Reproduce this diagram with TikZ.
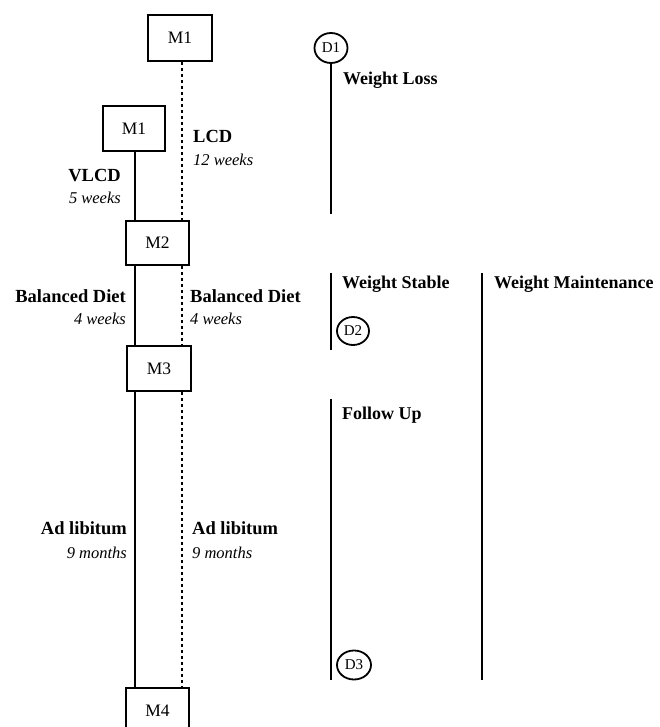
\documentclass[tikz,border=0pt]{standalone}
\usepackage{fontspec}
\setmainfont{Liberation Serif}
\usetikzlibrary{shapes.geometric}
\begin{document}
\begin{tikzpicture}[x=1pt,y=-1pt,
  mbox/.style={draw,line width=2.6pt,inner sep=0pt,font=\fontsize{17.5}{17.5}\selectfont},
  dcirc/.style={draw,ellipse,line width=1.8pt,minimum width=32pt,minimum height=28pt,inner sep=0pt,font=\fontsize{15}{15}\selectfont},
  solidline/.style={line width=2.6pt},
  dotline/.style={line width=2.8pt,dash pattern=on 3pt off 3pt},
  phaseline/.style={line width=2.2pt},
  blab/.style={inner sep=0pt,font=\bfseries\fontsize{18.5}{18.5}\selectfont},
  ilab/.style={inner sep=0pt,font=\itshape\fontsize{16.5}{16.5}\selectfont},
  hlab/.style={inner sep=0pt,anchor=base west,font=\bfseries\fontsize{18}{18}\selectfont}]
\useasboundingbox (0,0) rectangle (659,727);
% boxes
\node[mbox,minimum width=64pt,minimum height=46pt] (m1a) at (180,38) {M1};
\node[mbox,minimum width=62pt,minimum height=45pt] (m1b) at (134,128.5) {M1};
\node[mbox,minimum width=63pt,minimum height=44pt] (m2) at (157.5,243) {M2};
\node[mbox,minimum width=64pt,minimum height=45pt] (m3) at (159,368.5) {M3};
\node[mbox,minimum width=63pt,minimum height=45pt] (m4) at (157.5,710.5) {M4};
\coordinate (sx) at (135,0);
\coordinate (dx) at (182,0);
% solid track
\draw[solidline] (m1b.south -| sx) -- (m2.north -| sx);
\draw[solidline] (m2.south -| sx) -- (m3.north -| sx);
\draw[solidline] (m3.south -| sx) -- (m4.north -| sx);
% dotted track
\draw[dotline] (m1a.south -| dx) -- (m2.north -| dx);
\draw[dotline] (m2.south -| dx) -- (m3.north -| dx);
\draw[dotline] (m3.south -| dx) -- (m4.north -| dx);
% left labels
\node[blab,anchor=base east] (vlcd) at (121,182) {VLCD};
\node[ilab,anchor=base east] (vlcdw) at (121,204) {5 weeks};
\node[blab,anchor=base west] (lcd) at (193,143) {LCD};
\node[ilab,anchor=base west] (lcdw) at (193,166) {12 weeks};
\node[blab,anchor=base east] (bd1) at (126,302) {Balanced Diet};
\node[ilab,anchor=base east] (bd1w) at (126,324) {4 weeks};
\node[blab,anchor=base west] (bd2) at (190,302) {Balanced Diet};
\node[ilab,anchor=base west] (bd2w) at (190,324) {4 weeks};
\node[blab,anchor=base east] (al1) at (127,534) {Ad libitum};
\node[ilab,anchor=base east] (al1w) at (127,558) {9 months};
\node[blab,anchor=base west] (al2) at (192,534) {Ad libitum};
\node[ilab,anchor=base west] (al2w) at (192,558) {9 months};
% right side phases
\node[dcirc,minimum width=33pt,minimum height=30pt] (d1) at (331,48) {D1};
\coordinate (wlend) at (331,214);
\draw[phaseline] (d1.south) -- (wlend);
\node[hlab] (wl) at (343,85) {Weight Loss};
\coordinate (ws1) at (331,273);
\coordinate (ws2) at (331,350);
\draw[phaseline] (ws1) -- (ws2);
\node[hlab] (wst) at (342,288) {Weight Stable};
\node[dcirc] (d2) at (353,331) {D2};
\coordinate (fu1) at (331,399);
\coordinate (fu2) at (331,680);
\draw[phaseline] (fu1) -- (fu2);
\node[hlab] (fu) at (342,419) {Follow Up};
\node[dcirc,minimum width=34pt,minimum height=29pt] (d3) at (354,665) {D3};
\coordinate (wm1) at (482,273);
\coordinate (wm2) at (482,680);
\draw[phaseline] (wm1) -- (wm2);
\node[hlab] (wm) at (494,288) {Weight Maintenance};
\end{tikzpicture}
\end{document}
